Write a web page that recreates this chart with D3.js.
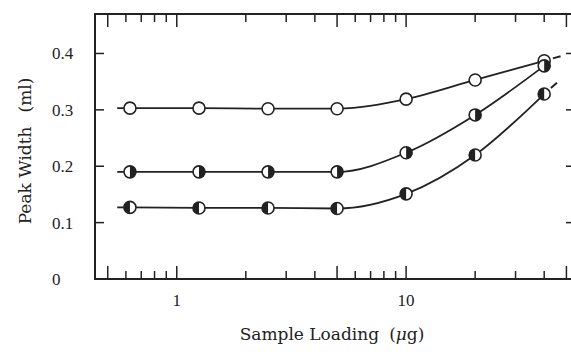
<!DOCTYPE html>
<html lang="en">
<head>
<meta charset="UTF-8">
<script src="https://d3js.org/d3.v7.min.js"></script>
<style>
    body { margin: 0; background: #fff; }
    svg { display: block; }
    text { font-family: "Liberation Serif", "Times New Roman", serif; fill: #222; }
    .title { font-family: "DejaVu Serif", serif; }
</style>
</head>
<body>
<div id="chart"></div>
<script>
// Sample loading (ug) and peak width (ml) for the three series
var loading = [0.625, 1.25, 2.5, 5, 10, 20, 40];
var openSeries = [0.303, 0.303, 0.302, 0.302, 0.319, 0.353, 0.387];
var rightHalfSeries = [0.190, 0.190, 0.190, 0.190, 0.224, 0.291, 0.378];
var leftHalfSeries = [0.127, 0.126, 0.126, 0.125, 0.151, 0.220, 0.328];

var yTicks = [0, 0.1, 0.2, 0.3, 0.4];
var xTicks = [0.5, 0.6, 0.7, 0.8, 0.9, 1, 2, 3, 4, 5, 6, 7, 8, 9, 10, 20, 30, 40, 50];
var xMajor = [0.5, 1, 5, 10, 50];
var xLabels = [1, 10];

var W = 571, H = 352;
var margin = { left: 95, right: -4, top: 14, bottom: 73 };

var x = d3.scaleLog().domain([0.44, 54.5]).range([margin.left, W - margin.right]);
var y = d3.scaleLinear().domain([0, 0.47]).range([H - margin.bottom, margin.top]);

var svg = d3.select("#chart").append("svg")
    .attr("width", W)
    .attr("height", H);

var ink = "#222";

// Frame
svg.append("rect")
    .attr("x", x.range()[0])
    .attr("y", y.range()[1])
    .attr("width", x.range()[1] - x.range()[0])
    .attr("height", y.range()[0] - y.range()[1])
    .attr("fill", "none")
    .attr("stroke", ink)
    .attr("stroke-width", 2);

// x ticks, bottom (pointing up) and top (pointing down)
function tickLen(d) { return xMajor.indexOf(d) >= 0 ? 13 : 8; }
svg.append("g").selectAll("line")
    .data(xTicks)
    .enter().append("line")
        .attr("x1", function(d) { return x(d); })
        .attr("x2", function(d) { return x(d); })
        .attr("y1", y(0))
        .attr("y2", function(d) { return y(0) - tickLen(d); })
        .attr("stroke", ink)
        .attr("stroke-width", 1.5);
svg.append("g").selectAll("line")
    .data(xTicks)
    .enter().append("line")
        .attr("x1", function(d) { return x(d); })
        .attr("x2", function(d) { return x(d); })
        .attr("y1", y.range()[1])
        .attr("y2", function(d) { return y.range()[1] + tickLen(d); })
        .attr("stroke", ink)
        .attr("stroke-width", 1.5);

// y ticks, left and right, pointing inward
var yInner = yTicks.filter(function(d) { return d > 0; });
svg.append("g").selectAll("line")
    .data(yInner)
    .enter().append("line")
        .attr("x1", x.range()[0])
        .attr("x2", x.range()[0] + 9)
        .attr("y1", function(d) { return y(d); })
        .attr("y2", function(d) { return y(d); })
        .attr("stroke", ink)
        .attr("stroke-width", 1.5);
svg.append("g").selectAll("line")
    .data(yInner)
    .enter().append("line")
        .attr("x1", x.range()[1])
        .attr("x2", x.range()[1] - 9)
        .attr("y1", function(d) { return y(d); })
        .attr("y2", function(d) { return y(d); })
        .attr("stroke", ink)
        .attr("stroke-width", 1.5);

// tick labels
svg.append("g").selectAll("text")
    .data(yTicks)
    .enter().append("text")
        .attr("x", 52)
        .attr("y", function(d) { return y(d) + 6; })
        .style("font-size", "17px")
        .text(function(d) { return d === 0 ? "0" : d3.format(".1f")(d); });

svg.append("g").selectAll("text")
    .data(xLabels)
    .enter().append("text")
        .attr("x", function(d) { return x(d); })
        .attr("y", 306)
        .attr("text-anchor", "middle")
        .style("font-size", "17px")
        .text(function(d) { return d; });

// axis titles
var xt = svg.append("text")
    .attr("class", "title")
    .attr("x", 332)
    .attr("y", 340)
    .attr("text-anchor", "middle")
    .style("font-size", "17px");
xt.append("tspan").text("Sample Loading");
xt.append("tspan").attr("dx", 10).text("(");
xt.append("tspan").style("font-style", "italic").text("\u03bc");
xt.append("tspan").text("g)");

var yt = svg.append("text")
    .attr("class", "title")
    .attr("transform", "translate(31,151) rotate(-90)")
    .attr("text-anchor", "middle")
    .style("font-size", "17px");
yt.append("tspan").text("Peak Width");
yt.append("tspan").attr("dx", 14).text("(ml)");

// curves
var series = [
    { values: openSeries, kind: "open", stubRight: true },
    { values: rightHalfSeries, kind: "right", stubRight: false },
    { values: leftHalfSeries, kind: "left", stubRight: true }
];

var line = d3.line()
    .x(function(d) { return x(d[0]); })
    .y(function(d) { return y(d[1]); })
    .curve(d3.curveMonotoneX);

series.forEach(function(s) {
    var pts = loading.map(function(v, i) { return [v, s.values[i]]; });
    svg.append("path")
        .attr("d", line(pts))
        .attr("fill", "none")
        .attr("stroke", ink)
        .attr("stroke-width", 1.8);

    // short lead-in stub to the left of the first point
    svg.append("line")
        .attr("x1", x(0.55))
        .attr("x2", x(loading[0]) - 6)
        .attr("y1", y(s.values[0]))
        .attr("y2", y(s.values[0]))
        .attr("stroke", ink)
        .attr("stroke-width", 1.8);

    // short dash continuing past the last point
    if (s.stubRight) {
        var n = loading.length;
        var px = x(loading[n - 1]), py = y(s.values[n - 1]);
        var dx = px - x(loading[n - 2]), dy = py - y(s.values[n - 2]);
        var len = Math.sqrt(dx * dx + dy * dy);
        dx /= len; dy /= len;
        svg.append("line")
            .attr("x1", px + dx * 9).attr("y1", py + dy * 9)
            .attr("x2", px + dx * 17).attr("y2", py + dy * 17)
            .attr("stroke", ink)
            .attr("stroke-width", 2);
    }
});

// markers
var r = 6;
series.forEach(function(s) {
    var g = svg.append("g");
    loading.forEach(function(v, i) {
        var cx = x(v), cy = y(s.values[i]);
        g.append("circle")
            .attr("cx", cx).attr("cy", cy).attr("r", r)
            .attr("fill", "#fff")
            .attr("stroke", ink)
            .attr("stroke-width", 1.6);
        if (s.kind !== "open") {
            var sweep = s.kind === "right" ? 1 : 0;
            g.append("path")
                .attr("d", "M" + cx + "," + (cy - r) + " A" + r + "," + r + " 0 0 " + sweep + " " + cx + "," + (cy + r) + " Z")
                .attr("fill", ink);
        }
    });
});
</script>
</body>
</html>
